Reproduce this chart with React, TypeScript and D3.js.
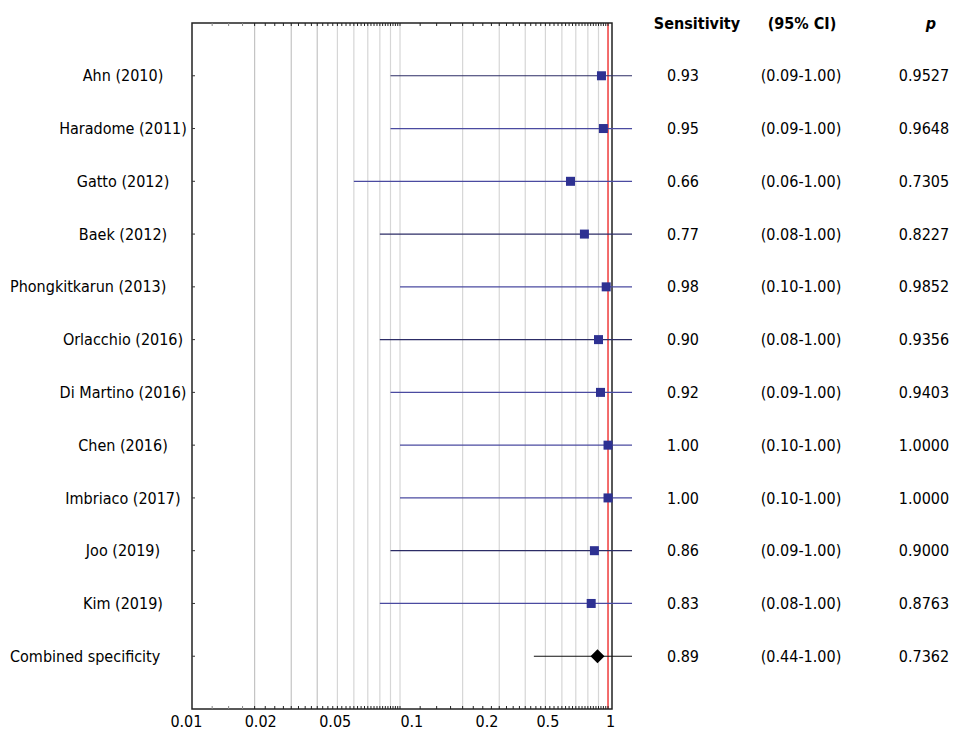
import { useEffect, useRef } from "react";
import * as d3 from "d3";

const STUDIES = [
  "Ahn (2010)",
  "Haradome (2011)",
  "Gatto (2012)",
  "Baek (2012)",
  "Phongkitkarun (2013)",
  "Orlacchio (2016)",
  "Di Martino (2016)",
  "Chen (2016)",
  "Imbriaco (2017)",
  "Joo (2019)",
  "Kim (2019)",
  "Combined specificity",
];
const ESTIMATE = [0.93, 0.95, 0.66, 0.77, 0.98, 0.9, 0.92, 1.0, 1.0, 0.86, 0.83, 0.89];
const LOWER = [0.09, 0.09, 0.06, 0.08, 0.1, 0.08, 0.09, 0.1, 0.1, 0.09, 0.08, 0.44];
const UPPER = [1.0, 1.0, 1.0, 1.0, 1.0, 1.0, 1.0, 1.0, 1.0, 1.0, 1.0, 1.0];
const P_VALUES = ["0.9527", "0.9648", "0.7305", "0.8227", "0.9852", "0.9356", "0.9403", "1.0000", "1.0000", "0.9000", "0.8763", "0.7362"];

const GRID_VALUES = [0.02, 0.03, 0.04, 0.05, 0.06, 0.07, 0.08, 0.09, 0.1, 0.2, 0.3, 0.4, 0.5, 0.6, 0.7, 0.8, 0.9];
const TICK_LABELS = ["0.01", "0.02", "0.05", "0.1", "0.2", "0.5", "1"];
// where each label sits on the axis (domain units)
const TICK_LABEL_AT = [0.0094, 0.0214, 0.0488, 0.114, 0.262, 0.514, 1.03];

const DARK_ROWS = new Set(["Ahn (2010)", "Baek (2012)", "Orlacchio (2016)", "Joo (2019)"]);
const FONT = "'Liberation Sans Narrow', 'DejaVu Sans Condensed', 'Open Sans', sans-serif";
const FS = 16;

export default function App() {
  const svgRef = useRef<SVGSVGElement>(null);

  useEffect(() => {
    if (!svgRef.current) return;
    document.body.style.margin = "0";

    const W = 959, H = 731;
    const top = 23, bottom = 709, left = 192, right = 612;

    const svg = d3.select(svgRef.current);
    svg.selectAll("*").remove();
    svg.attr("width", W).attr("height", H).style("font-family", FONT);

    const x = d3.scaleLog().domain([0.01, 1.045]).range([left, right]);
    const y = d3.scalePoint<string>().domain(STUDIES).range([top, bottom]).padding(1);

    const minor = [...d3.range(0.0125, 0.1001, 0.0025), ...d3.range(0.125, 1.0001, 0.025)];

    // Grid
    svg.append("g").selectAll("line").data(GRID_VALUES).join("line")
      .attr("x1", d => x(d)).attr("x2", d => x(d))
      .attr("y1", top).attr("y2", bottom)
      .attr("stroke", d => (d < 0.05 ? "#c4c4c4" : "#d6d6d6"))
      .attr("stroke-width", 1.2);

    // reference line at 1
    svg.append("line")
      .attr("x1", x(1)).attr("x2", x(1)).attr("y1", top).attr("y2", bottom)
      .attr("stroke", "#f04848").attr("stroke-width", 1.6);

    // Frame
    svg.append("rect")
      .attr("x", left).attr("y", top).attr("width", right - left).attr("height", bottom - top)
      .attr("fill", "none").attr("stroke", "#222").attr("stroke-width", 1.5);

    // minor ticks top & bottom
    const tg = svg.append("g");
    minor.forEach(v => {
      const c = v < 0.02 ? "#888" : "#222";
      tg.append("line").attr("x1", x(v)).attr("x2", x(v)).attr("y1", top).attr("y2", top + 3)
        .attr("stroke", c).attr("stroke-width", 1);
      tg.append("line").attr("x1", x(v)).attr("x2", x(v)).attr("y1", bottom).attr("y2", bottom - 3)
        .attr("stroke", c).attr("stroke-width", 1);
    });

    // row ticks on the left edge
    svg.append("g").selectAll("line").data(STUDIES).join("line")
      .attr("x1", left).attr("x2", left + 3)
      .attr("y1", d => y(d)!).attr("y2", d => y(d)!)
      .attr("stroke", "#333").attr("stroke-width", 1);

    // CI lines
    const overshoot = 24;
    const last = STUDIES.length - 1;
    STUDIES.forEach((s, i) => {
      const yy = y(s)!;
      const color = i === last ? "#111" : DARK_ROWS.has(s) ? "#2c2c66" : "#4a4aa0";
      svg.append("line")
        .attr("x1", x(LOWER[i])).attr("x2", x(UPPER[i]) + overshoot)
        .attr("y1", yy).attr("y2", yy)
        .attr("stroke", color).attr("stroke-width", 1.2);
      const cx = x(ESTIMATE[i]);
      if (i === last) {
        const r = 7;
        svg.append("path")
          .attr("d", `M${cx},${yy - r}L${cx + r},${yy}L${cx},${yy + r}L${cx - r},${yy}Z`)
          .attr("fill", "#000");
      } else {
        svg.append("rect")
          .attr("x", cx - 4.5).attr("y", yy - 4.5).attr("width", 9).attr("height", 9)
          .attr("fill", "#2e3192");
      }
    });

    // left labels: centred, long ones pushed to the left margin
    const labelCenter = 123, minLeft = 10, maxRight = 190;
    svg.append("g").selectAll("text").data(STUDIES).join("text")
      .attr("x", labelCenter).attr("y", d => y(d)!)
      .attr("dy", "0.35em").attr("text-anchor", "middle")
      .attr("font-size", FS).attr("fill", "#000")
      .text(d => d)
      .each(function () {
        const t = this as SVGTextElement;
        const w = t.getComputedTextLength();
        if (labelCenter + w / 2 > maxRight) {
          d3.select(t).attr("x", minLeft).attr("text-anchor", "start");
        }
      });

    // axis tick labels
    svg.append("g").selectAll("text").data(TICK_LABELS).join("text")
      .attr("x", (_, i) => x(TICK_LABEL_AT[i]))
      .attr("y", 727)
      .attr("text-anchor", "middle").attr("font-size", FS).attr("fill", "#000")
      .text(d => d);

    // right columns
    const colSens = 683, colCI = 801, colP = 924;
    const hy = 23;
    svg.append("text").attr("x", 697).attr("y", hy).attr("dy", "0.35em")
      .attr("text-anchor", "middle").attr("font-size", FS).attr("font-weight", 700).text("Sensitivity");
    svg.append("text").attr("x", 802).attr("y", hy).attr("dy", "0.35em")
      .attr("text-anchor", "middle").attr("font-size", FS).attr("font-weight", 700).text("(95% CI)");
    svg.append("text").attr("x", 931).attr("y", hy).attr("dy", "0.35em")
      .attr("text-anchor", "middle").attr("font-size", FS).attr("font-weight", 700)
      .attr("font-style", "italic").text("p");

    const rows = svg.append("g").attr("font-size", FS).attr("fill", "#000").attr("text-anchor", "middle");
    STUDIES.forEach((s, i) => {
      const yy = y(s)!;
      rows.append("text").attr("x", colSens).attr("y", yy).attr("dy", "0.35em").text(ESTIMATE[i].toFixed(2));
      rows.append("text").attr("x", colCI).attr("y", yy).attr("dy", "0.35em")
        .text(`(${LOWER[i].toFixed(2)}-${UPPER[i].toFixed(2)})`);
      rows.append("text").attr("x", colP).attr("y", yy).attr("dy", "0.35em").text(P_VALUES[i]);
    });
  }, []);

  return <svg ref={svgRef} style={{ display: "block", background: "#fff" }} />;
}
